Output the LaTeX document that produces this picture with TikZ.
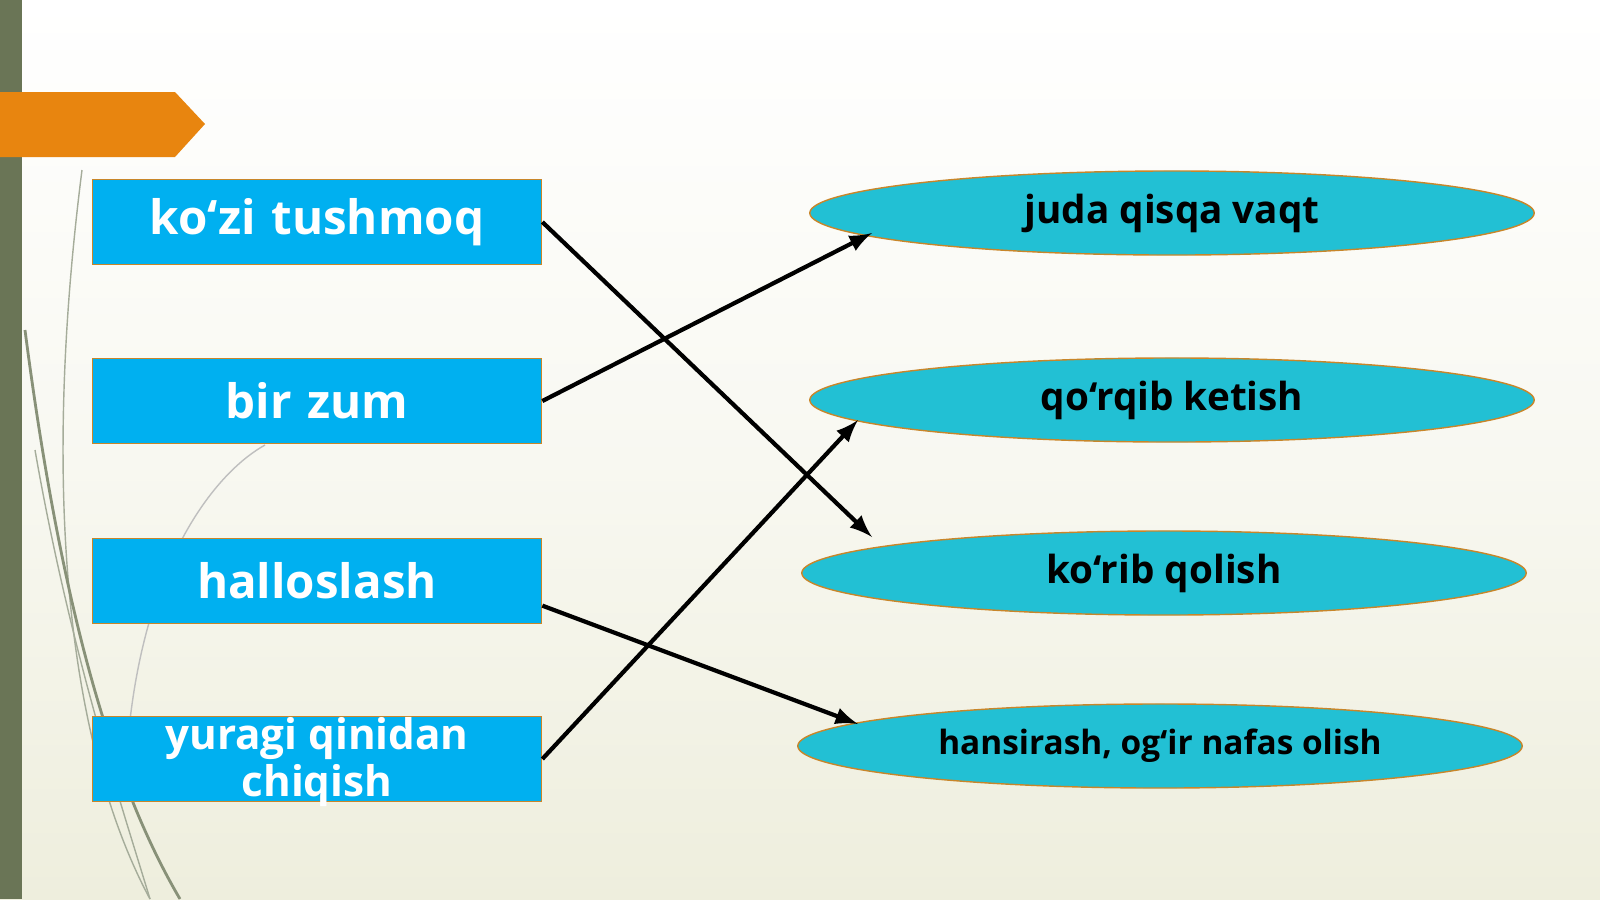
\documentclass[tikz,border=0pt]{standalone}
\usepackage{fontspec}
\setmainfont{Open Sans}
\usetikzlibrary{shapes.geometric, positioning}
\definecolor{boxblue}{HTML}{00B0F0}
\definecolor{ovalcyan}{HTML}{22C0D4}
\definecolor{edgeorange}{HTML}{C8862A}
\definecolor{barorange}{HTML}{E8850F}
\definecolor{bargreen}{HTML}{6A7556}
\definecolor{cream}{HTML}{EEEEDD}
\tikzset{
  word/.style={draw=edgeorange, fill=boxblue, text=white, font=\bfseries\fontsize{13.5}{13}\selectfont,
    minimum width=4.49cm, minimum height=0.85cm, inner sep=0pt, align=center, text width=4.4cm},
  meaning/.style={ellipse, draw=edgeorange, fill=ovalcyan, font=\bfseries\fontsize{11}{13}\selectfont,
    minimum width=7.24cm, minimum height=0.84cm, inner sep=0pt},
  link/.style={line width=1.2pt, -latex}
}
\begin{document}
\begin{tikzpicture}[x=0.01cm, y=-0.01cm]
  \useasboundingbox (0,0) rectangle (1600,899);
  \shade[top color=white, bottom color=cream, middle color=cream!40] (0,0) rectangle (1600,899);
  \fill[bargreen] (0,0) rectangle (22,899);
  \draw[bargreen!60, thin] (82,170) .. controls (40,500) and (70,750) .. (150,899);
  \draw[bargreen!80, thick] (25,330) .. controls (60,600) and (110,780) .. (180,899);
  \draw[bargreen!60] (35,450) .. controls (70,650) and (120,800) .. (150,899);
  \draw[gray!50, thin] (130,720) .. controls (150,550) and (220,470) .. (265,445);
  \fill[barorange] (0,92) -- (175,92) -- (205,124) -- (175,157) -- (0,157) -- cycle;

  \node[word] (w1) at (317,222) {ko‘zi tushmoq};
  \node[word] (w2) at (317,401) {bir zum};
  \node[word] (w3) at (317,581) {halloslash};
  \node[word, minimum height=0.85cm] (w4) at (317,759) {};
  \node[text=white, font=\bfseries\fontsize{12}{13.5}\selectfont, align=center, inner sep=0pt] (w4text) at (317,762) {yuragi qinidan\\chiqish};

  \node[meaning] (m1) at (1172,213) {juda qisqa vaqt};
  \node[meaning] (m2) at (1172,400) {qo‘rqib ketish};
  \node[meaning] (m3) at (1164,573) {ko‘rib qolish};
  \node[meaning, font=\bfseries\fontsize{9.5}{12}\selectfont] (m4) at (1160,746) {hansirash, og‘ir nafas olish};

  \coordinate (t1) at (872,233);
  \coordinate (t2) at (858,420);
  \coordinate (t3) at (872,537);
  \coordinate (t4) at (858,724);

  \draw[link] (w1.east) -- (t3);
  \draw[link] (w2.east) -- (t1);
  \draw[link] ([yshift=-7]w3.east) -- (t4);
  \draw[link] (w4.east) -- (t2);
\end{tikzpicture}
\end{document}
